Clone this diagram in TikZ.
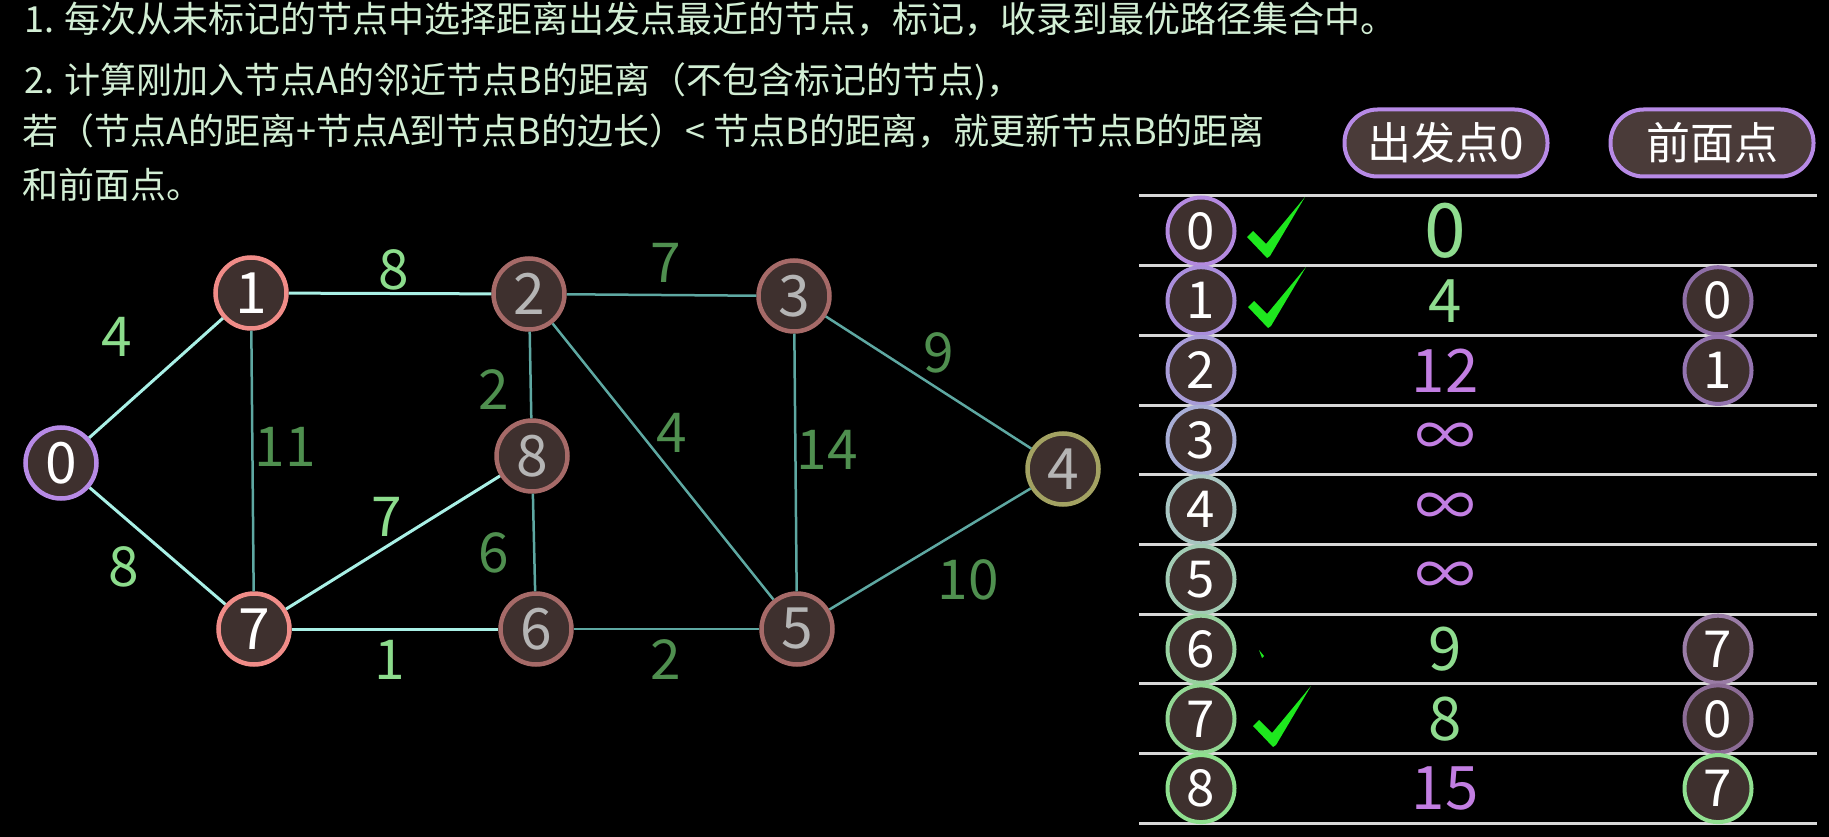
\documentclass[tikz,border=0pt]{standalone}
\usepackage{fontspec}
\setmainfont{Noto Sans CJK SC}
\definecolor{nodefill}{HTML}{3E302E}
\definecolor{pillfill}{HTML}{4A3B39}
\definecolor{purpleB}{HTML}{B78AE6}
\definecolor{salmon}{HTML}{F08C88}
\definecolor{dullred}{HTML}{A66A68}
\definecolor{olive}{HTML}{A3A262}
\definecolor{greytext}{HTML}{B5B5B5}
\definecolor{edgeB}{HTML}{A9F0E6}
\definecolor{edgeD}{HTML}{5EA8A2}
\definecolor{labB}{HTML}{8CDC8C}
\definecolor{labD}{HTML}{4F8F4F}
\definecolor{txtc}{HTML}{D2EED4}
\definecolor{lineC}{HTML}{D8D8D8}
\definecolor{distG}{HTML}{8FDC8F}
\definecolor{distP}{HTML}{C27EE2}
\definecolor{chkG}{HTML}{1EE81E}
\definecolor{r0}{HTML}{B48AE0}
\definecolor{r1}{HTML}{AA8EDC}
\definecolor{r2}{HTML}{A89CD8}
\definecolor{r3}{HTML}{A8AED6}
\definecolor{r4}{HTML}{A8C6C2}
\definecolor{r5}{HTML}{A2CCB4}
\definecolor{r6}{HTML}{98D2A0}
\definecolor{r7}{HTML}{92D894}
\definecolor{r8}{HTML}{8EE08E}
\definecolor{p1}{HTML}{8E6EA6}
\definecolor{p2}{HTML}{9474B0}
\definecolor{p6}{HTML}{9A7CA6}
\definecolor{p7}{HTML}{8C6C96}
\definecolor{p8}{HTML}{90E090}
\tikzset{
  gnode/.style={circle, minimum size=71pt, inner sep=0pt, line width=4.5pt, fill=nodefill, font=\fontsize{57}{57}\selectfont},
  bedge/.style={draw=edgeB, line width=3pt},
  dedge/.style={draw=edgeD, line width=2.5pt},
  lab/.style={inner sep=0pt, font=\fontsize{55}{55}\selectfont},
  txt/.style={inner sep=0pt, anchor=west, text=txtc, font=\fontsize{36}{36}\selectfont},
  tnode/.style={circle, minimum size=67pt, inner sep=0pt, line width=4pt, fill=nodefill, text=white, font=\fontsize{51}{51}\selectfont},
  dist/.style={inner sep=0pt, font=\fontsize{60}{60}\selectfont},
  pill/.style={rectangle, rounded corners=33pt, minimum width=203pt, minimum height=67pt, line width=4pt, draw=purpleB, fill=pillfill, text=white, font=\fontsize{44}{44}\selectfont},
  hline/.style={draw=lineC, line width=3pt},
  chk/.pic={\fill[chkG] (-20,-20) -- (-14,-26) -- (-1,-13) -- (38,-60) -- (3,-1) -- (0,1) -- cycle;}
}
\begin{document}
\begin{tikzpicture}[x=1pt,y=-1pt]
\fill[black] (0,0) rectangle (1829,837);
\useasboundingbox (0,0) rectangle (1829,837);

% top text
\node[txt] (t1) at (24,19) {1. 每次从未标记的节点中选择距离出发点最近的节点，标记，收录到最优路径集合中。};
\node[txt] (t2) at (24,82) {2. 计算刚加入节点A的邻近节点B的距离（不包含标记的节点)，};
\node[txt] (t3) at (22,131) {若（节点A的距离+节点A到节点B的边长）< 节点B的距离，就更新节点B的距离};
\node[txt] (t4) at (22,185) {和前面点。};

% graph nodes
\node[gnode, draw=purpleB, text=white] (n0) at (61,463) {0};
\node[gnode, draw=salmon, text=white] (n1) at (251,293) {1};
\node[gnode, draw=salmon, text=white] (n7) at (254,629) {7};
\node[gnode, draw=dullred, text=greytext] (n2) at (529,294) {2};
\node[gnode, draw=dullred, text=greytext] (n8) at (532,456) {8};
\node[gnode, draw=dullred, text=greytext] (n6) at (536,629) {6};
\node[gnode, draw=dullred, text=greytext] (n3) at (794,296) {3};
\node[gnode, draw=dullred, text=greytext] (n5) at (797,629) {5};
\node[gnode, draw=olive, text=greytext] (n4) at (1063,469) {4};

% edges
\draw[bedge] (n0) -- (n1);
\draw[bedge] (n0) -- (n7);
\draw[bedge] (n1) -- (n2);
\draw[dedge] (n1) -- (n7);
\draw[bedge] (n7) -- (n8);
\draw[bedge] (n7) -- (n6);
\draw[dedge] (n2) -- (n8);
\draw[dedge] (n8) -- (n6);
\draw[dedge] (n2) -- (n3);
\draw[dedge] (n2) -- (n5);
\draw[dedge] (n6) -- (n5);
\draw[dedge] (n3) -- (n5);
\draw[dedge] (n3) -- (n4);
\draw[dedge] (n5) -- (n4);

% edge labels
\node[lab, text=labB] (l01) at (117,337) {4};
\node[lab, text=labB] (l07) at (124,567) {8};
\node[lab, text=labB] (l12) at (394,270) {8};
\node[lab, text=labD] (l17) at (285,447) {11};
\node[lab, text=labB] (l78) at (387,517) {7};
\node[lab, text=labB] (l76) at (390,660) {1};
\node[lab, text=labD] (l28) at (494,390) {2};
\node[lab, text=labD] (l86) at (494,553) {6};
\node[lab, text=labD] (l23) at (666,263) {7};
\node[lab, text=labD] (l25) at (672,433) {4};
\node[lab, text=labD] (l35) at (827,450) {14};
\node[lab, text=labD] (l34) at (939,353) {9};
\node[lab, text=labD] (l54) at (968,580) {10};
\node[lab, text=labD] (l65) at (666,660) {2};

% table header
\node[pill] (h1) at (1446,143) {出发点0};
\node[pill] (h2) at (1712,143) {前面点};

% table rules
\foreach \k in {0,...,9} {
  \draw[hline] (1139,196+69.7*\k) -- (1817,196+69.7*\k);
}

% row nodes
\foreach \i/\c in {0/r0,1/r1,2/r2,3/r3,4/r4,5/r5,6/r6,7/r7,8/r8} {
  \node[tnode, draw=\c] (r\i) at (1201,231+69.7*\i) {\i};
}

% distances
\node[dist, text=distG, font=\fontsize{75}{75}\selectfont] (d0) at (1445,231) {0};
\node[dist, text=distG] (d1) at (1445,300.7) {4};
\node[dist, text=distP] (d2) at (1445,370.4) {12};
\node[dist, text=distP] (d3) at (1445,440.1) {∞};
\node[dist, text=distP] (d4) at (1445,509.8) {∞};
\node[dist, text=distP] (d5) at (1445,579.5) {∞};
\node[dist, text=distG] (d6) at (1445,649.2) {9};
\node[dist, text=distG] (d7) at (1445,718.9) {8};
\node[dist, text=distP] (d8) at (1445,788.6) {15};

% predecessors
\node[tnode, draw=p1] (q1) at (1718,300.7) {0};
\node[tnode, draw=p2] (q2) at (1718,370.4) {1};
\node[tnode, draw=p6] (q6) at (1718,649.2) {7};
\node[tnode, draw=p7] (q7) at (1718,718.9) {0};
\node[tnode, draw=p8] (q8) at (1718,788.6) {7};

% check marks
\pic at (1267,257) {chk};
\pic at (1268,327) {chk};
\pic at (1273,746) {chk};
\fill[chkG] (1259,650) -- (1264,656) -- (1262,658) -- cycle;
\end{tikzpicture}
\end{document}
